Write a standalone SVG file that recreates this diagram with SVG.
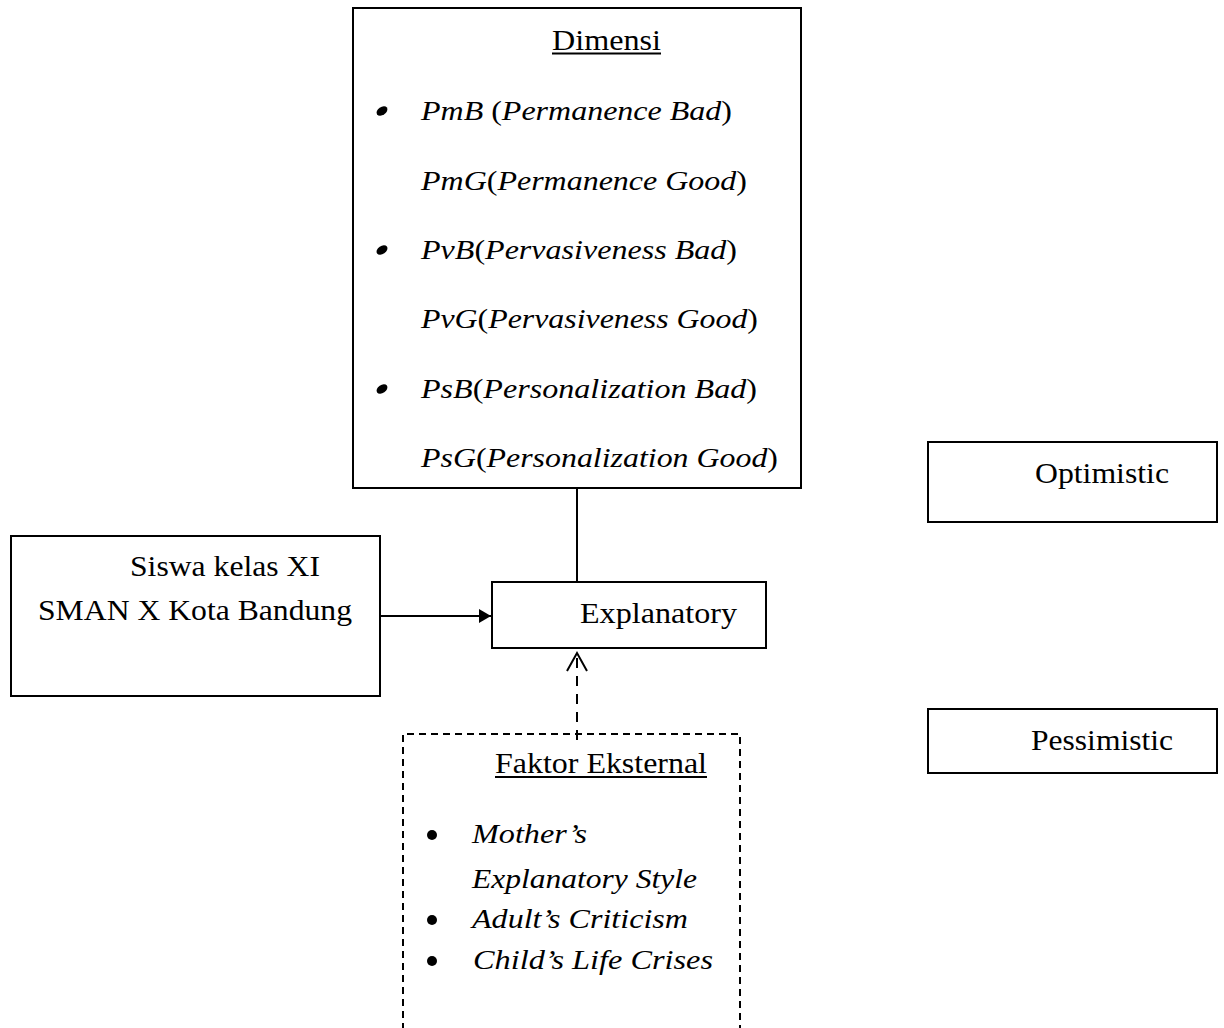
<svg xmlns="http://www.w3.org/2000/svg" width="1224" height="1028" viewBox="0 0 1224 1028">
<style>
  text { font-family: 'Liberation Serif', 'Times New Roman', serif; font-size: 29px; fill: #000; }
  .it { font-style: italic; }
  .li { font-size: 28px; }
  .box { fill: #fff; stroke: #000; stroke-width: 2; }
  .dbox { fill: none; stroke: #000; stroke-width: 2; stroke-dasharray: 7 5; }
  .ln { fill: none; stroke: #000; stroke-width: 2; }
  .dln { fill: none; stroke: #000; stroke-width: 2; stroke-dasharray: 10 8; }
  .ul { stroke: #000; stroke-width: 1.8; }
</style>
<defs>
  <marker id="arrFill" viewBox="0 0 12 14" refX="12" refY="7" markerWidth="12" markerHeight="14" markerUnits="userSpaceOnUse" orient="auto">
    <path d="M0,0 L12,7 L0,14 Z" fill="#000"/>
  </marker>
</defs>
<rect width="1224" height="1028" fill="#fff"/>

<g id="connectors">
  <line class="ln" x1="577" y1="488" x2="577" y2="582"/>
  <line class="ln" x1="380" y1="616" x2="491" y2="616" marker-end="url(#arrFill)"/>
  <line class="dln" x1="577" y1="740" x2="577" y2="656"/>
  <polyline class="ln" points="567,671 577,653 587,671"/>
</g>

<g id="dimensi">
  <rect class="box" x="353" y="8" width="448" height="480"/>
  <text x="552" y="50" textLength="109" lengthAdjust="spacingAndGlyphs">Dimensi</text>
  <line class="ul" x1="552" y1="53.5" x2="661" y2="53.5"/>
  <ellipse cx="382" cy="111" rx="6" ry="4" transform="rotate(-35 382 111)"/>
  <text class="li" x="421" y="120" textLength="311" lengthAdjust="spacingAndGlyphs"><tspan class="it">PmB</tspan> (<tspan class="it">Permanence Bad</tspan>)</text>
  <text class="li" x="421" y="190" textLength="326" lengthAdjust="spacingAndGlyphs"><tspan class="it">PmG</tspan>(<tspan class="it">Permanence Good</tspan>)</text>
  <ellipse cx="382" cy="250" rx="6" ry="4" transform="rotate(-35 382 250)"/>
  <text class="li" x="421" y="259" textLength="316" lengthAdjust="spacingAndGlyphs"><tspan class="it">PvB</tspan>(<tspan class="it">Pervasiveness Bad</tspan>)</text>
  <text class="li" x="421" y="328" textLength="337" lengthAdjust="spacingAndGlyphs"><tspan class="it">PvG</tspan>(<tspan class="it">Pervasiveness Good</tspan>)</text>
  <ellipse cx="382" cy="389" rx="6" ry="4" transform="rotate(-35 382 389)"/>
  <text class="li" x="421" y="398" textLength="336" lengthAdjust="spacingAndGlyphs"><tspan class="it">PsB</tspan>(<tspan class="it">Personalization Bad</tspan>)</text>
  <text class="li" x="421" y="467" textLength="357" lengthAdjust="spacingAndGlyphs"><tspan class="it">PsG</tspan>(<tspan class="it">Personalization Good</tspan>)</text>
</g>

<g id="siswa">
  <rect class="box" x="11" y="536" width="369" height="160"/>
  <text x="130" y="576" textLength="190" lengthAdjust="spacingAndGlyphs">Siswa kelas XI</text>
  <text x="38" y="620" textLength="314" lengthAdjust="spacingAndGlyphs">SMAN X Kota Bandung</text>
</g>

<g id="explanatory">
  <rect class="box" x="492" y="582" width="274" height="66"/>
  <text x="580" y="623" textLength="157" lengthAdjust="spacingAndGlyphs">Explanatory</text>
</g>

<g id="optimistic">
  <rect class="box" x="928" y="442" width="289" height="80"/>
  <text x="1035" y="483" textLength="134" lengthAdjust="spacingAndGlyphs">Optimistic</text>
</g>

<g id="pessimistic">
  <rect class="box" x="928" y="709" width="289" height="64"/>
  <text x="1031" y="750" textLength="142" lengthAdjust="spacingAndGlyphs">Pessimistic</text>
</g>

<g id="faktor-eksternal">
  <path class="dbox" d="M403,1030 L403,734 L740,734 L740,1030"/>
  <text x="495" y="773" textLength="212" lengthAdjust="spacingAndGlyphs">Faktor Eksternal</text>
  <line class="ul" x1="495" y1="777" x2="707" y2="777"/>
  <circle cx="432" cy="835" r="5"/>
  <text class="it li" x="472" y="843" textLength="115" lengthAdjust="spacingAndGlyphs">Mother’s</text>
  <text class="it li" x="472" y="888" textLength="225" lengthAdjust="spacingAndGlyphs">Explanatory Style</text>
  <circle cx="432" cy="920" r="5"/>
  <text class="it li" x="472" y="928" textLength="216" lengthAdjust="spacingAndGlyphs">Adult’s Criticism</text>
  <circle cx="432" cy="961" r="5"/>
  <text class="it li" x="473" y="969" textLength="240" lengthAdjust="spacingAndGlyphs">Child’s Life Crises</text>
</g>
</svg>
